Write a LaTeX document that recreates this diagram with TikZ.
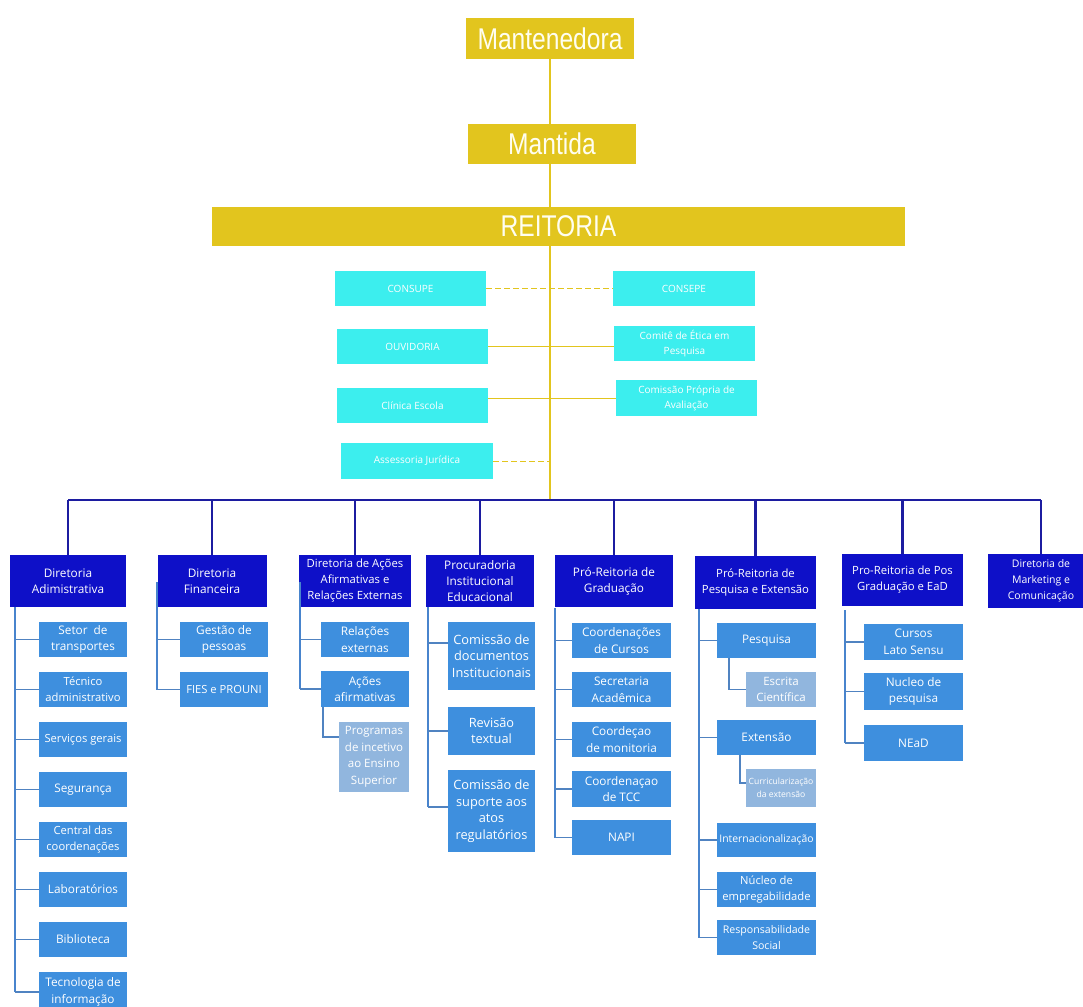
\documentclass[tikz,border=0pt]{standalone}
\usepackage{fontspec}
\setmainfont{Open Sans}
\newfontfamily\condfont[FakeStretch=0.82]{Liberation Sans}
\usetikzlibrary{calc}
\definecolor{ygold}{RGB}{226,197,30}
\definecolor{cyanbox}{RGB}{60,238,238}
\definecolor{topblue}{RGB}{14,16,200}
\definecolor{subblue}{RGB}{62,143,222}
\definecolor{lightbl}{RGB}{145,182,222}
\definecolor{busblue}{RGB}{28,28,160}
\definecolor{spineblue}{RGB}{72,132,205}
\begin{document}
\begin{tikzpicture}[x=1pt,y=-1pt,
  wh/.style 2 args={minimum width=#1pt, minimum height=#2pt},
  ybox/.style={fill=ygold, text=white!94!yellow, inner sep=0pt, font=\condfont\fontsize{30}{32}\selectfont},
  cbox/.style={fill=cyanbox, text=white, inner sep=0pt, align=center, font=\fontsize{10}{15}\selectfont},
  tbox/.style={fill=topblue, text=white, inner sep=0pt, align=center, font=\fontsize{11.8}{16}\selectfont},
  sbox/.style={fill=subblue, text=white, inner sep=0pt, align=center, font=\fontsize{11.8}{16.5}\selectfont},
  lbox/.style={fill=lightbl, text=white, inner sep=0pt, align=center, font=\fontsize{11.5}{16.5}\selectfont},
  trunk/.style={draw=ygold, line width=2pt},
  ylink/.style={draw=ygold, line width=1pt},
  ydash/.style={draw=ygold, line width=1pt, dash pattern=on 6pt off 3pt},
  bus/.style={draw=busblue, line width=2.6pt},
  spine/.style={draw=spineblue, line width=2.4pt},
  stub/.style={draw=spineblue!85!gray, line width=1.3pt}
]
\clip (0,0) rectangle (1083,1006);
\fill[white] (0,0) rectangle (1083,1006);

% ---- top yellow ----
\node[ybox, wh={168}{41}] (mant) at (550,38.5) {Mantenedora};
\node[ybox, wh={168}{40}] (mantida) at (552,144) {Mantida};
\node[ybox, wh={693}{39}] (reit) at (558.5,226.5) {REITORIA};
\coordinate (busmid) at (550,500);

% ---- cyan ----
\node[cbox, wh={151}{35}] (consupe) at (410.5,288.5) {CONSUPE};
\node[cbox, wh={142}{35}] (consepe) at (684,288.5) {CONSEPE};
\node[cbox, wh={151}{35}] (ouvid) at (412.5,346.5) {OUVIDORIA};
\node[cbox, wh={141}{35}] (comite) at (684.5,343.5) {Comitê de Ética em\\Pesquisa};
\node[cbox, wh={151}{35}] (clinica) at (412.5,405.5) {Clínica Escola};
\node[cbox, wh={141}{36}] (cpa) at (686.5,398) {Comissão Própria de\\Avaliação};
\node[cbox, wh={152}{36}] (assess) at (417,461) {Assessoria Jurídica};

\draw[ydash] (consupe.east) -- (consepe.west);
\draw[ylink] (ouvid.east) -- (ouvid.east -| comite.west);
\draw[ylink] (clinica.east |- cpa.west) -- (cpa.west);
\draw[ydash] (assess.east) -- (assess.east -| busmid);
\draw[trunk] (mant.south -| busmid) -- (mantida.north -| busmid)
             (mantida.south -| busmid) -- (reit.north -| busmid)
             (reit.south -| busmid) -- (busmid);

% ---- top blue ----
\node[tbox, wh={116}{52}] (dadm) at (68,581) {Diretoria\\Adimistrativa};
\node[tbox, wh={109}{52}] (dfin) at (212,581) {Diretoria\\Financeira};
\node[tbox, wh={112}{52}, font=\fontsize{11.3}{16}\selectfont] (dacoes) at (355,581) {Diretoria de Ações\\Afirmativas e\\Relações Externas};
\node[tbox, wh={108}{52}] (proc) at (480,581) {Procuradoria\\Institucional\\Educacional};
\node[tbox, wh={118}{52}] (pgrad) at (614,581) {Pró-Reitoria de\\Graduação};
\node[tbox, wh={121}{53}, font=\fontsize{11.3}{16}\selectfont] (ppesq) at (755.5,582.5) {Pró-Reitoria de\\Pesquisa e Extensão};
\node[tbox, wh={121}{52}, font=\fontsize{11.3}{16}\selectfont] (ppos) at (902.5,580) {Pro-Reitoria de Pos\\Graduação e EaD};
\node[tbox, wh={106}{54}, font=\fontsize{10.5}{16}\selectfont] (dmkt) at (1041,581) {Diretoria de\\Marketing e\\Comunicação};

\draw[bus] (dadm.north |- busmid) -- (dmkt.north |- busmid);
\foreach \n in {dadm,dfin,dacoes,proc,pgrad,ppesq,ppos,dmkt}
  \draw[bus] (\n.north |- busmid) -- (\n.north);

% ---- column 1 ----
\node[sbox, wh={88}{35}] (s11) at (83,639.5) {Setor \ de\\transportes};
\node[sbox, wh={88}{35}, font=\fontsize{11.2}{16.5}\selectfont] (s12) at (83,689.5) {Técnico\\administrativo};
\node[sbox, wh={88}{35}, font=\fontsize{11.2}{16.5}\selectfont] (s13) at (83,739.5) {Serviços gerais};
\node[sbox, wh={88}{35}] (s14) at (83,789.5) {Segurança};
\node[sbox, wh={88}{35}, font=\fontsize{11.2}{16.5}\selectfont] (s15) at (83,839.5) {Central das\\coordenações};
\node[sbox, wh={88}{35}] (s16) at (83,889.5) {Laboratórios};
\node[sbox, wh={88}{35}] (s17) at (83,939.5) {Biblioteca};
\node[sbox, wh={88}{40}] (s18) at (83,992) {Tecnologia de\\informação};
\coordinate (sp1) at (15,607);
\draw[spine] (sp1) -- (sp1 |- s18.west);
\foreach \n in {s11,s12,s13,s14,s15,s16,s17,s18}
  \draw[stub] (sp1 |- \n.west) -- (\n.west);

% ---- column 2 ----
\node[sbox, wh={88}{35}] (s21) at (224,639.5) {Gestão de\\pessoas};
\node[sbox, wh={88}{35}, font=\fontsize{11.2}{16.5}\selectfont] (s22) at (224,689.5) {FIES e PROUNI};
\coordinate (sp2) at (157,582);
\draw[spine] (sp2) -- (sp2 |- s22.west);
\foreach \n in {s21,s22}
  \draw[stub] (sp2 |- \n.west) -- (\n.west);

% ---- column 3 ----
\node[sbox, wh={88}{35}] (s31) at (365,639.5) {Relações\\externas};
\node[sbox, wh={88}{36}] (s32) at (365,689) {Ações\\afirmativas};
\node[lbox, wh={70}{70}] (s33) at (374,757) {Programas\\de incetivo\\ao Ensino\\Superior};
\coordinate (sp3) at (300,582);
\draw[spine] (sp3) -- (sp3 |- s32.west);
\foreach \n in {s31,s32}
  \draw[stub] (sp3 |- \n.west) -- (\n.west);
\coordinate (sp3b) at (323,707);
\draw[stub] (sp3b) |- ($(s33.west)+(0,-20)$);

% ---- column 4 ----
\node[sbox, wh={87}{68}, font=\fontsize{12.8}{16.5}\selectfont] (s41) at (491.5,656) {Comissão de\\documentos\\Institucionais};
\node[sbox, wh={87}{48}, font=\fontsize{12.8}{16.5}\selectfont] (s42) at (491.5,731) {Revisão\\textual};
\node[sbox, wh={87}{82}, font=\fontsize{12.8}{16.5}\selectfont] (s43) at (491.5,811) {Comissão de\\suporte aos\\atos\\regulatórios};
\coordinate (sp4) at (428,607);
\draw[spine] (sp4) -- ($(sp4 |- s43.west)+(0,-4)$);
\draw[stub] ($(sp4 |- s41.west)+(0,-13)$) -- ($(s41.west)+(0,-13)$);
\draw[stub] (sp4 |- s42.west) -- (s42.west);
\draw[stub] ($(sp4 |- s43.west)+(0,-4)$) -- ($(s43.west)+(0,-4)$);

% ---- column 5 ----
\node[sbox, wh={99}{35}] (s51) at (621.5,640.5) {Coordenações\\de Cursos};
\node[sbox, wh={99}{35}] (s52) at (621.5,689.5) {Secretaria\\Acadêmica};
\node[sbox, wh={99}{35}] (s53) at (621.5,739.5) {Coordeçao\\de monitoria};
\node[sbox, wh={99}{36}] (s54) at (621.5,789) {Coordenaçao\\de TCC};
\node[sbox, wh={99}{35}] (s55) at (621.5,837.5) {NAPI};
\coordinate (sp5) at (555,608);
\draw[spine] (sp5) -- (sp5 |- s55.west);
\foreach \n in {s51,s52,s53,s54,s55}
  \draw[stub] (sp5 |- \n.west) -- (\n.west);

% ---- column 6 ----
\node[sbox, wh={99}{35}] (s61) at (766.5,640.5) {Pesquisa};
\node[lbox, wh={70}{35}] (s62) at (781,689.5) {Escrita\\Científica};
\node[sbox, wh={99}{35}] (s63) at (766.5,737.5) {Extensão};
\node[lbox, wh={70}{38}, font=\fontsize{8.6}{13}\selectfont] (s64) at (781,788) {Curricularização\\da extensão};
\node[sbox, wh={99}{34}, font=\fontsize{10.4}{15}\selectfont] (s65) at (766.5,840) {Internacionalização};
\node[sbox, wh={99}{35}, font=\fontsize{11.2}{16}\selectfont] (s66) at (766.5,889.5) {Núcleo de\\empregabilidade};
\node[sbox, wh={99}{35}, font=\fontsize{10.6}{15.5}\selectfont] (s67) at (766.5,937.5) {Responsabilidade\\Social};
\coordinate (sp6) at (699,609);
\draw[spine] (sp6) -- (sp6 |- s67.west);
\foreach \n in {s61,s63,s65,s66,s67}
  \draw[stub] (sp6 |- \n.west) -- (\n.west);
\coordinate (sp6a) at (729,658);
\draw[stub] (sp6a) |- (s62.west);
\coordinate (sp6b) at (740,755);
\draw[stub] (sp6b) |- ($(s64.west)+(0,-5)$);

% ---- column 7 ----
\node[sbox, wh={99}{36}] (s71) at (913.5,642) {Cursos\\Lato Sensu};
\node[sbox, wh={99}{37}] (s72) at (913.5,691.5) {Nucleo de\\pesquisa};
\node[sbox, wh={99}{36}] (s73) at (913.5,743) {NEaD};
\coordinate (sp7) at (845,610);
\draw[spine] (sp7) -- (sp7 |- s73.west);
\foreach \n in {s71,s72,s73}
  \draw[stub] (sp7 |- \n.west) -- (\n.west);
\end{tikzpicture}
\end{document}
